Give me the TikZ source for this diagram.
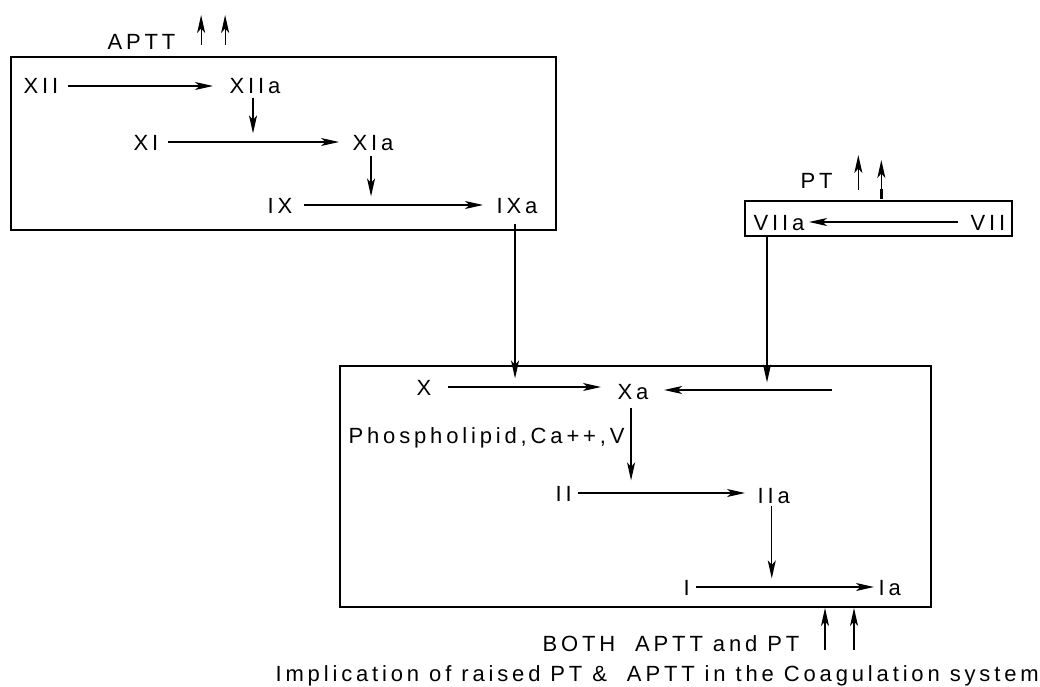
\documentclass[tikz,border=0pt]{standalone}
\usepackage{fontspec}
\setmainfont{Liberation Sans}[LetterSpace=17.5]
\usetikzlibrary{arrows.meta}

\begin{document}
\begin{tikzpicture}[x=1pt, y=-1pt, line width=1.2pt,
                >={Stealth[length=18pt, width=8pt, inset=4.5pt]},
                factor/.style={anchor=west, inner sep=0pt, text height=16pt, text depth=0pt,
                    font=\fontsize{22}{26}\selectfont, execute at end node={\kern-.175em}},
                panel/.style={rectangle, draw, line width=1.5pt, inner sep=0pt},
                flow/.style={->, shorten <=13pt, shorten >=14pt}
            ]

            \useasboundingbox (0,0) rectangle (1040,687);

            % Intrinsic pathway
            \node[panel, minimum width=545pt, minimum height=173pt] (intr) at (283.5,143.5) {};
            \node[factor] (aptt) at (107,42) {APTT};
            \node[factor] (xii) at (23,86) {XII};
            \node[factor] (xiia) at (229,86) {XIIa};
            \node[factor] (xi) at (133,142) {XI};
            \node[factor] (xia) at (352,142) {XIa};
            \node[factor] (ix) at (267,205) {IX};
            \node[factor] (ixa) at (496,205) {IXa};

            \draw[flow, shorten >=16pt] (xii.east) -- (xiia.west);
            \draw[flow, shorten >=13pt] (xi.east) -- (xia.west);
            \draw[flow, shorten <=15pt, shorten >=13pt] (ix.east) -- (ixa.west);
            \draw[->, shorten <=3pt] (xiia.south) -- (xiia.south |- xi.north);
            \draw[->, shorten <=5pt] (xia.south) -- (xia.south |- ix.north);
            \foreach \dx in {29,53}
                \draw[->] ([xshift=\dx pt, yshift=-3pt]aptt.east) -- ++(0,-30);

            % Extrinsic pathway
            \node[panel, minimum width=267pt, minimum height=35pt] (extr) at (878.5,218.5) {};
            \node[factor] (pt) at (800,180) {PT};
            \node[factor] (viia) at (753,222) {VIIa};
            \node[factor] (vii) at (970,222) {VII};

            \draw[flow, shorten <=12pt, shorten >=8pt] (vii.west) -- (viia.east);
            \draw[->] ([xshift=29pt, yshift=-10pt]pt.east) -- ++(0,-35);
            \draw[->] ([xshift=52pt, yshift=-19pt]pt.east) -- ++(0,-39);
            \draw[line width=2.6pt] ([xshift=52pt, yshift=-19pt]pt.east) -- ++(0,-10);

            % Common pathway
            \node[panel, minimum width=591pt, minimum height=241pt] (comm) at (635.5,486.5) {};
            \node[factor] (x) at (416,387) {X};
            \node[factor] (xa) at (617,391) {Xa};
            \node[factor] (cofac) at (348,435) {Phospholipid,Ca++,V};
            \node[factor] (ii) at (555,493) {II};
            \node[factor] (iia) at (757,495) {IIa};
            \node[factor] (i) at (683,587) {I};
            \node[factor] (ia) at (878,587) {Ia};
            \coordinate (feed) at (832,390);

            \draw[flow, shorten <=20pt, shorten >=16pt] (x.east) -- (x.east -| xa.west);
            \draw[->, shorten >=19pt] (feed) -- (feed -| xa.east);
            \draw[->, shorten <=8pt, shorten >=4pt] (xa.south) -- (xa.south |- ii.north);
            \draw[flow, shorten <=10pt, shorten >=12pt] (ii.east) -- (ii.east -| iia.west);
            \draw[->, shorten <=2pt] (iia.south) -- (iia.south |- i.north);
            \draw[flow, shorten <=10pt, shorten >=4pt] (i.east) -- (ia.west);

            % Links between pathways
            \draw[->, shorten <=10pt] (ixa.south) -- (ixa.south |- x.north);
            \draw[->] ([xshift=14pt]viia.west |- extr.south) -- ([xshift=14pt]viia.west |- xa.north);

            % Captions
            \node[factor] (both) at (542,643) {BOTH\ \ APTT and PT};
            \node[factor] (title) at (275,673) {Implication of raised PT \&\ \ APTT in the Coagulation system};
            \foreach \dx in {29,58}
                \draw[->] ([xshift=\dx pt, yshift=-7pt]both.east) -- ++(0,-42);

        \end{tikzpicture}
\end{document}
